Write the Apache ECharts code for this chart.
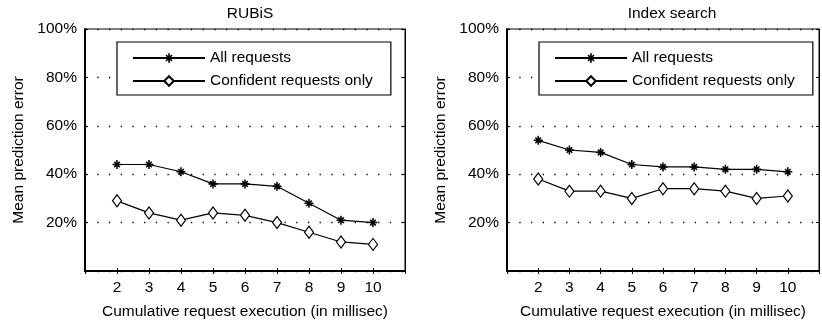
<!DOCTYPE html>
<html>
<head>
<meta charset="utf-8">
<script src="https://cdn.jsdelivr.net/npm/echarts@6/dist/echarts.min.js"></script>
<style>
html,body{margin:0;padding:0;background:#fff;}
#chart{width:822px;height:326px;}
</style>
</head>
<body>
<div id="chart"></div>
<script>
// ---- data ----
const xValues = [2, 3, 4, 5, 6, 7, 8, 9, 10];
const titles = ['RUBiS', 'Index search'];
const seriesNames = ['All requests', 'Confident requests only'];
const rubisAll = [44, 44, 41, 36, 36, 35, 28, 21, 20];
const rubisConfident = [29, 24, 21, 24, 23, 20, 16, 12, 11];
const indexAll = [54, 50, 49, 44, 43, 43, 42, 42, 41];
const indexConfident = [38, 33, 33, 30, 34, 34, 33, 30, 31];
const yTicks = [20, 40, 60, 80, 100];
const xAxisName = 'Cumulative request execution (in millisec)';
const yAxisName = 'Mean prediction error';

const FONT = 'Liberation Sans, Arial, sans-serif';
const FS = 15.5;
const asterisk = 'path://M0 8.3 L20 8.3 L20 11.7 L0 11.7 Z M8.3 0 L11.7 0 L11.7 20 L8.3 20 Z M5 2.6 L17.4 15 L15 17.4 L2.6 5 Z M15 2.6 L17.4 5 L5 17.4 L2.6 15 Z';

const panels = [
  {left: 85, width: 320, all: rubisAll, conf: rubisConfident},
  {left: 507, width: 320, all: indexAll, conf: indexConfident}
];

const grid = [], xAxis = [], yAxis = [], series = [], legend = [], title = [];
panels.forEach((p, i) => {
  grid.push({left: p.left, width: p.width, top: 29, height: 242, show: true,
    borderColor: '#000', borderWidth: 1, backgroundColor: 'transparent'});
  title.push({text: titles[i], left: p.left + p.width / 2, top: 1, textAlign: 'center',
    textStyle: {fontFamily: FONT, fontSize: FS, fontWeight: 'normal', color: '#000'}});
  xAxis.push({type: 'value', gridIndex: i, min: 1, max: 11, interval: 1,
    name: xAxisName, nameLocation: 'middle', nameGap: 33,
    nameTextStyle: {fontFamily: FONT, fontSize: FS, color: '#000'},
    axisLine: {show: true, lineStyle: {color: '#000', width: 2}},
    axisTick: {show: true, inside: true, length: 3, lineStyle: {color: '#000'}},
    axisLabel: {fontFamily: FONT, fontSize: FS, color: '#000', margin: 9,
      formatter: v => xValues.indexOf(v) >= 0 ? String(v) : ''},
    splitLine: {show: false}});
  xAxis.push({type: 'value', gridIndex: i, position: 'top', min: 1, max: 11, interval: 1,
    axisLine: {show: true, lineStyle: {color: '#000', width: 1}},
    axisTick: {show: true, inside: true, length: 3, lineStyle: {color: '#000'}},
    axisLabel: {show: false}, splitLine: {show: false}});
  yAxis.push({type: 'value', gridIndex: i, min: 0, max: 100, interval: 20,
    name: yAxisName, nameLocation: 'middle', nameGap: 58,
    nameTextStyle: {fontFamily: FONT, fontSize: FS, color: '#000'},
    axisLine: {show: true, lineStyle: {color: '#000', width: 2}},
    axisTick: {show: true, inside: true, length: 3, lineStyle: {color: '#000'}},
    axisLabel: {fontFamily: FONT, fontSize: FS, color: '#000', margin: 8,
      formatter: v => yTicks.indexOf(v) >= 0 ? v + '%' : ''},
    splitLine: {show: true, lineStyle: {color: '#000', width: 1.3, type: [1.3, 10.4], dashOffset: 11.1}}});
  yAxis.push({type: 'value', gridIndex: i, position: 'right', min: 0, max: 100, interval: 20,
    axisLine: {show: true, lineStyle: {color: '#000', width: 1}},
    axisTick: {show: true, inside: true, length: 3, lineStyle: {color: '#000'}},
    axisLabel: {show: false}, splitLine: {show: false}});

  series.push({name: seriesNames[0], type: 'line', xAxisIndex: i * 2, yAxisIndex: i * 2,
    data: xValues.map((x, k) => [x, p.all[k]]),
    symbol: asterisk, symbolSize: 9,
    lineStyle: {color: '#000', width: 1.2}, itemStyle: {color: '#000'},
    emphasis: {disabled: true}, animation: false, z: 5});
  series.push({name: seriesNames[1], type: 'line', xAxisIndex: i * 2, yAxisIndex: i * 2,
    data: xValues.map((x, k) => [x, p.conf[k]]),
    symbol: 'diamond', symbolSize: [9, 12],
    lineStyle: {color: '#000', width: 1.2},
    itemStyle: {color: '#fff', borderColor: '#000', borderWidth: 1.2},
    emphasis: {disabled: true}, animation: false, z: 5});

  legend.push({data: seriesNames, orient: 'vertical', left: p.left + 32, top: 42,
    itemWidth: 72, itemHeight: 12, itemGap: 7,
    padding: [8, 18, 6, 15],
    backgroundColor: '#fff', borderColor: '#000', borderWidth: 1.2, borderRadius: 0,
    selectedMode: false,
    textStyle: {fontFamily: FONT, fontSize: FS, color: '#000', lineHeight: 14}});
});

const chart = echarts.init(document.getElementById('chart'), null, {renderer: 'canvas'});
chart.setOption({animation: false, backgroundColor: '#fff', title, grid, xAxis, yAxis, series, legend});
</script>
</body>
</html>
